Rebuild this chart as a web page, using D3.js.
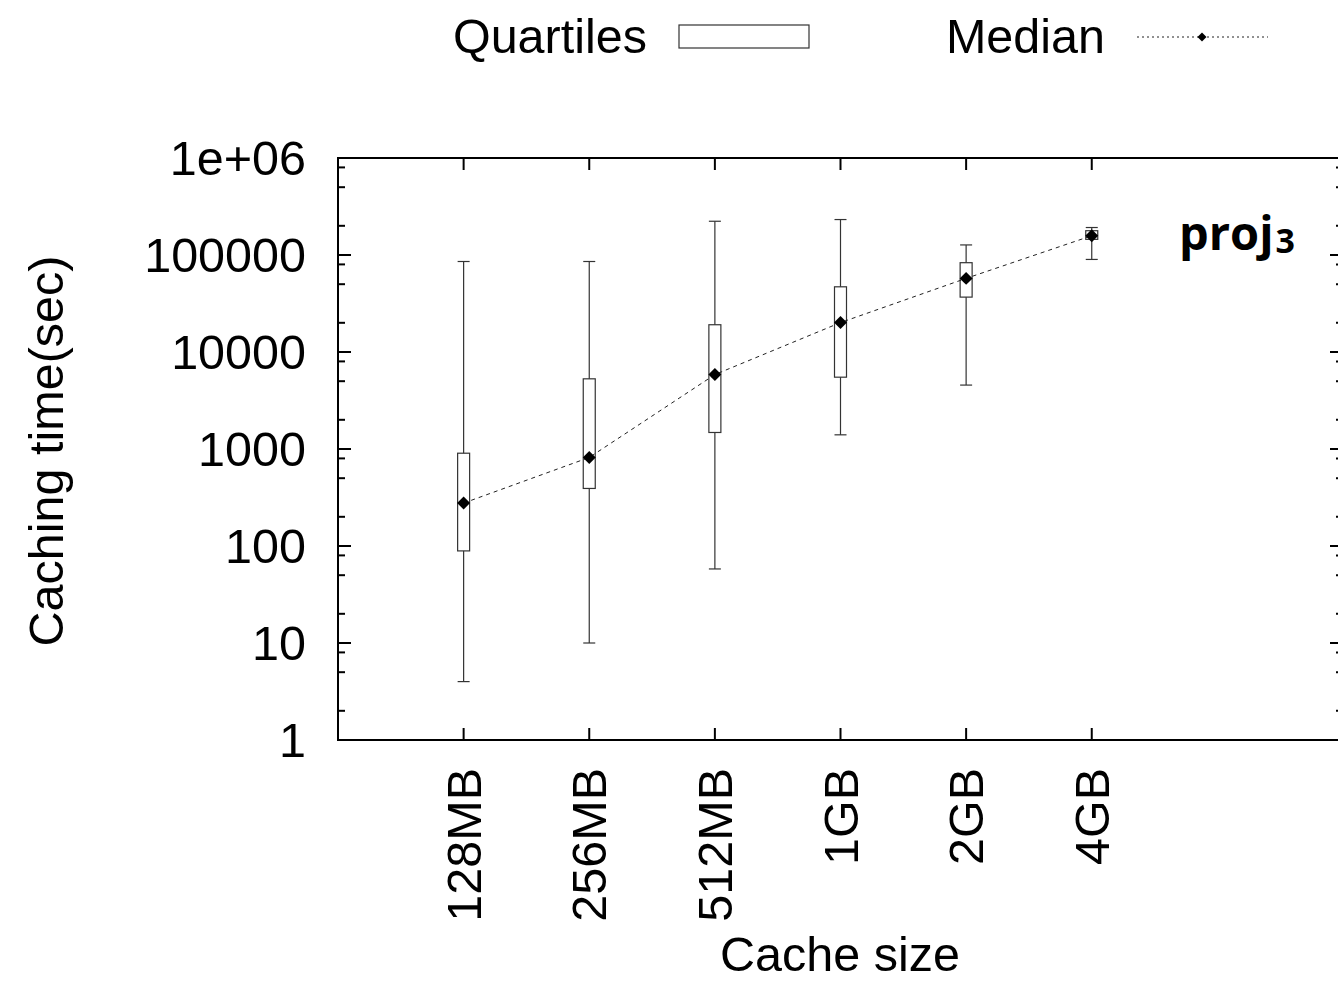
<!DOCTYPE html>
<html>
<head>
<meta charset="utf-8">
<script src="https://cdn.jsdelivr.net/npm/d3@7"></script>
<style>
  body { margin: 0; background: #fff; }
  text { font-family: "Liberation Sans", Arial, sans-serif; fill: #000; }
</style>
</head>
<body>
<svg id="chart"></svg>
<script>
// data
const categories = ["128MB", "256MB", "512MB", "1GB", "2GB", "4GB"];
const whiskerLow = [4, 10, 58, 1400, 4560, 90000];
const quartileLow = [89, 392, 1480, 5500, 36800, 145000];
const medians = [277, 818, 5850, 20100, 57400, 158000];
const quartileHigh = [905, 5290, 19100, 47000, 83300, 178000];
const whiskerHigh = [85700, 85700, 222800, 232000, 127000, 192000];
const yTickValues = [1, 10, 100, 1000, 10000, 100000, 1000000];
const yTickLabels = ["1", "10", "100", "1000", "10000", "100000", "1e+06"];
const minorSteps = [2, 5, 8];

const width = 1338, height = 982;
const svg = d3.select("#chart").attr("width", width).attr("height", height);

const plotLeft = 338, plotRight = 1343, plotTop = 158, plotBottom = 740;
const fs = "48.5px";

// categories sit at 1..6 on an axis that runs 0..8
const x = d3.scaleLinear().domain([0, 8]).range([plotLeft, plotRight]);
const y = d3.scaleLog().domain([1, 1e6]).range([plotBottom, plotTop]);

const rows = categories.map((c, i) => ({
  name: c, pos: i + 1,
  lo: whiskerLow[i], q1: quartileLow[i], med: medians[i],
  q3: quartileHigh[i], hi: whiskerHigh[i]
}));

// minor tick values
let minors = [];
for (let k = 0; k < 6; k++) {
  for (let m of minorSteps) minors.push(m * Math.pow(10, k));
}

const axes = svg.append("g").attr("stroke", "#000").attr("stroke-width", 2);

// y ticks, left and mirrored right
axes.selectAll("line.ymaj")
  .data(yTickValues)
  .enter()
  .append("line")
  .attr("x1", plotLeft).attr("x2", plotLeft + 13)
  .attr("y1", d => y(d)).attr("y2", d => y(d));
axes.selectAll("line.ymajr")
  .data(yTickValues)
  .enter()
  .append("line")
  .attr("x1", plotRight).attr("x2", plotRight - 13)
  .attr("y1", d => y(d)).attr("y2", d => y(d));
axes.selectAll("line.ymin")
  .data(minors)
  .enter()
  .append("line")
  .attr("x1", plotLeft).attr("x2", plotLeft + 7)
  .attr("y1", d => y(d)).attr("y2", d => y(d));
axes.selectAll("line.yminr")
  .data(minors)
  .enter()
  .append("line")
  .attr("x1", plotRight).attr("x2", plotRight - 7)
  .attr("y1", d => y(d)).attr("y2", d => y(d));

// x ticks, bottom and mirrored top
axes.selectAll("line.xb")
  .data(rows)
  .enter()
  .append("line")
  .attr("x1", d => x(d.pos)).attr("x2", d => x(d.pos))
  .attr("y1", plotBottom).attr("y2", plotBottom - 12);
axes.selectAll("line.xt")
  .data(rows)
  .enter()
  .append("line")
  .attr("x1", d => x(d.pos)).attr("x2", d => x(d.pos))
  .attr("y1", plotTop).attr("y2", plotTop + 12);

// frame
svg.append("rect")
  .attr("x", plotLeft).attr("y", plotTop)
  .attr("width", plotRight - plotLeft).attr("height", plotBottom - plotTop)
  .attr("fill", "none").attr("stroke", "#000").attr("stroke-width", 2);

// y tick labels
svg.selectAll("text.ylab")
  .data(yTickValues)
  .enter()
  .append("text")
  .attr("x", 306)
  .attr("y", d => y(d) + 17)
  .attr("text-anchor", "end")
  .style("font-size", fs)
  .text((d, i) => yTickLabels[i]);

// x tick labels, rotated
svg.selectAll("text.xlab")
  .data(rows)
  .enter()
  .append("text")
  .attr("transform", d => "translate(" + (x(d.pos) + 17) + "," + 768 + ") rotate(-90)")
  .attr("text-anchor", "end")
  .style("font-size", fs)
  .text(d => d.name);

// axis titles
svg.append("text")
  .attr("transform", "translate(63,451) rotate(-90)")
  .attr("text-anchor", "middle")
  .style("font-size", fs)
  .text("Caching time(sec)");
svg.append("text")
  .attr("x", 840).attr("y", 971)
  .attr("text-anchor", "middle")
  .style("font-size", fs)
  .text("Cache size");

// whiskers
const boxW = 12;
const plot = svg.append("g");
plot.selectAll("line.whisk")
  .data(rows)
  .enter()
  .append("line")
  .attr("x1", d => x(d.pos)).attr("x2", d => x(d.pos))
  .attr("y1", d => y(d.lo)).attr("y2", d => y(d.hi))
  .attr("stroke", "#333").attr("stroke-width", 1.2);
plot.selectAll("line.capHi")
  .data(rows)
  .enter()
  .append("line")
  .attr("x1", d => x(d.pos) - boxW / 2).attr("x2", d => x(d.pos) + boxW / 2)
  .attr("y1", d => y(d.hi)).attr("y2", d => y(d.hi))
  .attr("stroke", "#333").attr("stroke-width", 1.2);
plot.selectAll("line.capLo")
  .data(rows)
  .enter()
  .append("line")
  .attr("x1", d => x(d.pos) - boxW / 2).attr("x2", d => x(d.pos) + boxW / 2)
  .attr("y1", d => y(d.lo)).attr("y2", d => y(d.lo))
  .attr("stroke", "#333").attr("stroke-width", 1.2);

// quartile boxes
plot.selectAll("rect.box")
  .data(rows)
  .enter()
  .append("rect")
  .attr("x", d => x(d.pos) - boxW / 2)
  .attr("y", d => y(d.q3))
  .attr("width", boxW)
  .attr("height", d => y(d.q1) - y(d.q3))
  .attr("fill", "#fff")
  .attr("stroke", "#333").attr("stroke-width", 1.2);

// median line
const line = d3.line().x(d => x(d.pos)).y(d => y(d.med));
plot.append("path")
  .datum(rows)
  .attr("d", line)
  .attr("fill", "none")
  .attr("stroke", "#222").attr("stroke-width", 1)
  .attr("stroke-dasharray", "4,4");

// diamonds: squares turned 45 degrees
const diamond = d3.symbol().type(d3.symbolSquare).size(84);
plot.selectAll("path.med")
  .data(rows)
  .enter()
  .append("path")
  .attr("d", diamond)
  .attr("transform", d => "translate(" + x(d.pos) + "," + y(d.med) + ") rotate(45)")
  .attr("fill", "#000");

// panel tag
const tag = svg.append("text")
  .attr("x", 1179).attr("y", 250)
  .style("font-family", "'Open Sans', 'DejaVu Sans', sans-serif")
  .style("font-weight", "bold")
  .style("font-size", "47px");
tag.append("tspan").text("proj");
tag.append("tspan").attr("dy", 3).attr("dx", 2).style("font-size", "34px").text("3");

// legend
svg.append("text")
  .attr("x", 647).attr("y", 53)
  .attr("text-anchor", "end")
  .style("font-size", fs)
  .text("Quartiles");
svg.append("rect")
  .attr("x", 679).attr("y", 25)
  .attr("width", 130).attr("height", 23)
  .attr("fill", "#fff").attr("stroke", "#333").attr("stroke-width", 1.2);
svg.append("text")
  .attr("x", 1105).attr("y", 53)
  .attr("text-anchor", "end")
  .style("font-size", fs)
  .text("Median");
svg.append("line")
  .attr("x1", 1137).attr("x2", 1268)
  .attr("y1", 37).attr("y2", 37)
  .attr("stroke", "#222").attr("stroke-width", 1)
  .attr("stroke-dasharray", "2,3");
svg.append("path")
  .attr("d", d3.symbol().type(d3.symbolSquare).size(40))
  .attr("transform", "translate(1202,37) rotate(45)")
  .attr("fill", "#000");
</script>
</body>
</html>
